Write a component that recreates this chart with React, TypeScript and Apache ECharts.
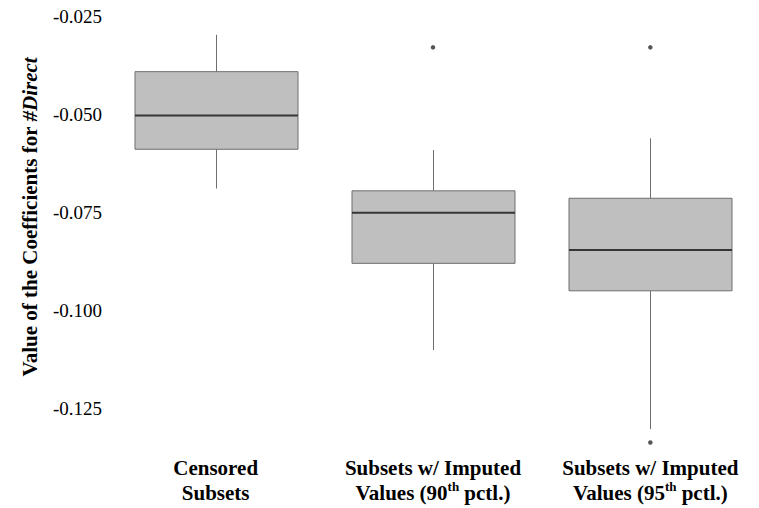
import React, { useEffect, useRef } from "react";
import * as echarts from "echarts";

const categories = [
  "Censored\nSubsets",
  "Subsets w/ Imputed\nValues (90th pctl.)",
  "Subsets w/ Imputed\nValues (95th pctl.)",
];
const lowerWhisker = [-0.069, -0.1102, -0.1304];
const q1Vals = [-0.059, -0.0881, -0.0951];
const medianVals = [-0.0504, -0.0752, -0.0847];
const q3Vals = [-0.0392, -0.0696, -0.0715];
const upperWhisker = [-0.0298, -0.0592, -0.0562];
const outlierCats = [1, 2, 2];
const outlierVals = [-0.033, -0.033, -0.1338];
const yTitle = "Value of the Coefficients for ";
const yTitleItalic = "#Direct";

const FONT = "Liberation Serif";

export default function App() {
  const ref = useRef<HTMLDivElement>(null);
  useEffect(() => {
    if (!ref.current) return;
    const chart = echarts.init(ref.current, null, { renderer: "svg" });
    const boxData = categories.map((_, i) => [
      i,
      lowerWhisker[i],
      q1Vals[i],
      medianVals[i],
      q3Vals[i],
      upperWhisker[i],
    ]);
    const outlierData = outlierCats.map((c, i) => [c, outlierVals[i]]);
    const stroke = "#6e6e6e";
    chart.setOption({
      animation: false,
      textStyle: { fontFamily: FONT },
      grid: { left: 107, top: 16, width: 662, height: 441, containLabel: false },
      xAxis: {
        type: "category",
        data: categories,
        axisLine: { show: false },
        axisTick: { show: false },
        splitLine: { show: false },
        axisLabel: {
          interval: 0,
          margin: -2,
          color: "#000",
          fontFamily: FONT,
          fontSize: 21,
          fontWeight: "bold",
          lineHeight: 25,
          formatter: (v: string) => v.replace(/(\d)th/, "$1{sup|th}"),
          rich: {
            sup: {
              fontFamily: FONT,
              fontSize: 13,
              fontWeight: "bold",
              color: "#000",
              verticalAlign: "top",
              lineHeight: 20,
            },
          },
        },
      },
      yAxis: {
        type: "value",
        min: -0.1375,
        max: -0.025,
        minInterval: 0.025,
        maxInterval: 0.025,
        axisLine: { show: false },
        axisTick: { show: false },
        splitLine: { show: false },
        axisLabel: {
          showMinLabel: false,
          margin: 5,
          color: "#000",
          fontFamily: FONT,
          fontSize: 19,
          formatter: (v: number) => v.toFixed(3),
        },
      },
      graphic: [
        {
          type: "text",
          x: 30,
          y: 217,
          rotation: Math.PI / 2,
          style: {
            text: `{a|${yTitle}}{b|${yTitleItalic}}`,
            align: "center",
            verticalAlign: "middle",
            fontFamily: FONT,
            rich: {
              a: { fontFamily: FONT, fontSize: 21, fontWeight: "bold", fill: "#000" },
              b: {
                fontFamily: FONT,
                fontSize: 21,
                fontWeight: "bold",
                fontStyle: "italic",
                fill: "#000",
              },
            },
          },
        },
      ],
      series: [
        {
          type: "custom",
          data: boxData,
          encode: { x: 0, y: [1, 2, 3, 4, 5] },
          renderItem: (params: any, api: any) => {
            const idx = api.value(0);
            const lo = api.coord([idx, api.value(1)]);
            const b1 = api.coord([idx, api.value(2)]);
            const md = api.coord([idx, api.value(3)]);
            const b3 = api.coord([idx, api.value(4)]);
            const hi = api.coord([idx, api.value(5)]);
            const band = api.size([1, 0])[0];
            const half = band * 0.375;
            const x = Math.round(lo[0]) + 0.5;
            return {
              type: "group",
              children: [
                {
                  type: "line",
                  shape: { x1: x, y1: hi[1], x2: x, y2: b3[1] },
                  style: { stroke, lineWidth: 1 },
                },
                {
                  type: "line",
                  shape: { x1: x, y1: b1[1], x2: x, y2: lo[1] },
                  style: { stroke, lineWidth: 1 },
                },
                {
                  type: "rect",
                  shape: { x: x - half, y: b3[1], width: half * 2, height: b1[1] - b3[1] },
                  style: { fill: "#bfbfbf", stroke, lineWidth: 1 },
                },
                {
                  type: "line",
                  shape: { x1: x - half, y1: md[1], x2: x + half, y2: md[1] },
                  style: { stroke: "#363636", lineWidth: 2 },
                },
              ],
            };
          },
        },
        {
          type: "scatter",
          data: outlierData,
          symbol: "circle",
          symbolSize: 4.5,
          itemStyle: { color: "#2b2b2b" },
        },
      ],
    });
    return () => chart.dispose();
  }, []);
  return (
    <div
      ref={ref}
      style={{ position: "fixed", left: 0, top: 0, width: 759, height: 508, background: "#fff" }}
    />
  );
}
